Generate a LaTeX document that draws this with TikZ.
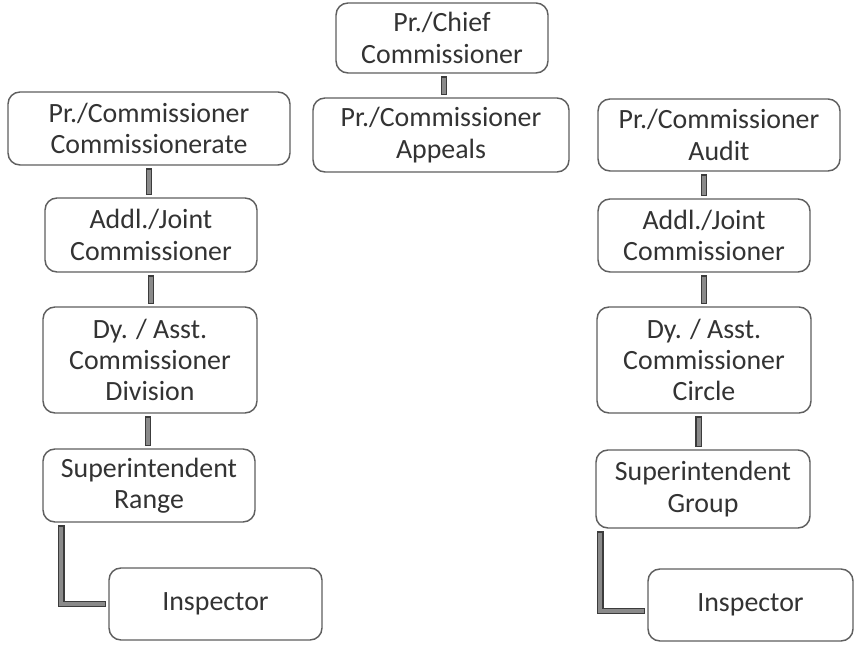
\documentclass[tikz,border=0pt]{standalone}
\usepackage{fontspec}
\setmainfont{Carlito}
\begin{document}
\definecolor{boxline}{HTML}{5F5F5F}
\definecolor{boxtext}{HTML}{333333}
\definecolor{barfill}{HTML}{8A8A8A}
\definecolor{barline}{HTML}{3C3C3C}
\tikzset{
  office/.style={draw=boxline, line width=1.1pt, rounded corners=9pt,
    fill=white, text=boxtext, align=center, inner sep=0pt,
    font=\fontsize{20.9}{23.4}\selectfont},
  barout/.style={draw=barline, line width=5.2pt, shorten <=2pt, shorten >=1.5pt},
  barin/.style={draw=barfill, line width=3.0pt, shorten <=3.1pt, shorten >=2.6pt},
}
\newcommand\officebox[6]{%
  \node[office, minimum width=#4*0.75pt, minimum height=#5*0.75pt] (#1) at (#2,#3) {#6};}
\newcommand\barlink[1]{\draw[barout] #1; \draw[barin] #1;}
\begin{tikzpicture}[x=0.75pt, y=-0.75pt]
\useasboundingbox (0,0) rectangle (854,645);

% central column
\officebox{chief}{442}{38}{212}{70}{Pr./Chief\\Commissioner}
\officebox{appeals}{441}{135}{256}{74}{Pr./Commissioner\\Appeals}

% left column: commissionerate chain
\officebox{comm}{149}{128.5}{282}{73}{Pr./Commissioner\\Commissionerate}
\officebox{addlL}{151}{235}{212}{74}{Addl./Joint\\Commissioner}
\officebox{dyL}{150}{360}{214}{106}{Dy. / Asst.\\Commissioner\\Division}
\officebox{supL}{149}{485.5}{212}{73}{Superintendent\\Range}
\officebox{inspL}{215.5}{604}{213}{72}{Inspector}

% right column: audit chain
\officebox{audit}{719}{135}{242}{72}{Pr./Commissioner\\Audit}
\officebox{addlR}{704}{235.5}{212}{73}{Addl./Joint\\Commissioner}
\officebox{dyR}{704}{360}{214}{106}{Dy. / Asst.\\Commissioner\\Circle}
\officebox{supR}{703}{489}{214}{78}{Superintendent\\Group}
\officebox{inspR}{750.5}{605}{205}{72}{Inspector}

% links
\barlink{([xshift=1.5pt]chief.south) -- ([xshift=1.5pt]chief.south |- appeals.north)}
\barlink{(comm.south) -- (comm.south |- addlL.north)}
\barlink{(addlL.south) -- (addlL.south |- dyL.north)}
\barlink{([xshift=-1.5pt]dyL.south) -- ([xshift=-1.5pt]dyL.south |- supL.north)}
\barlink{(addlR.north |- audit.south) -- (addlR.north)}
\barlink{(addlR.south) -- (addlR.south |- dyR.north)}
\barlink{([xshift=-4pt]dyR.south) -- ([xshift=-4pt]dyR.south |- supR.north)}
\barlink{([xshift=14.25pt]supL.south west) |- (inspL.west)}
\barlink{([xshift=3.75pt]supR.south west) |- ([yshift=-4.5pt]inspR.west)}
\end{tikzpicture}
\end{document}
